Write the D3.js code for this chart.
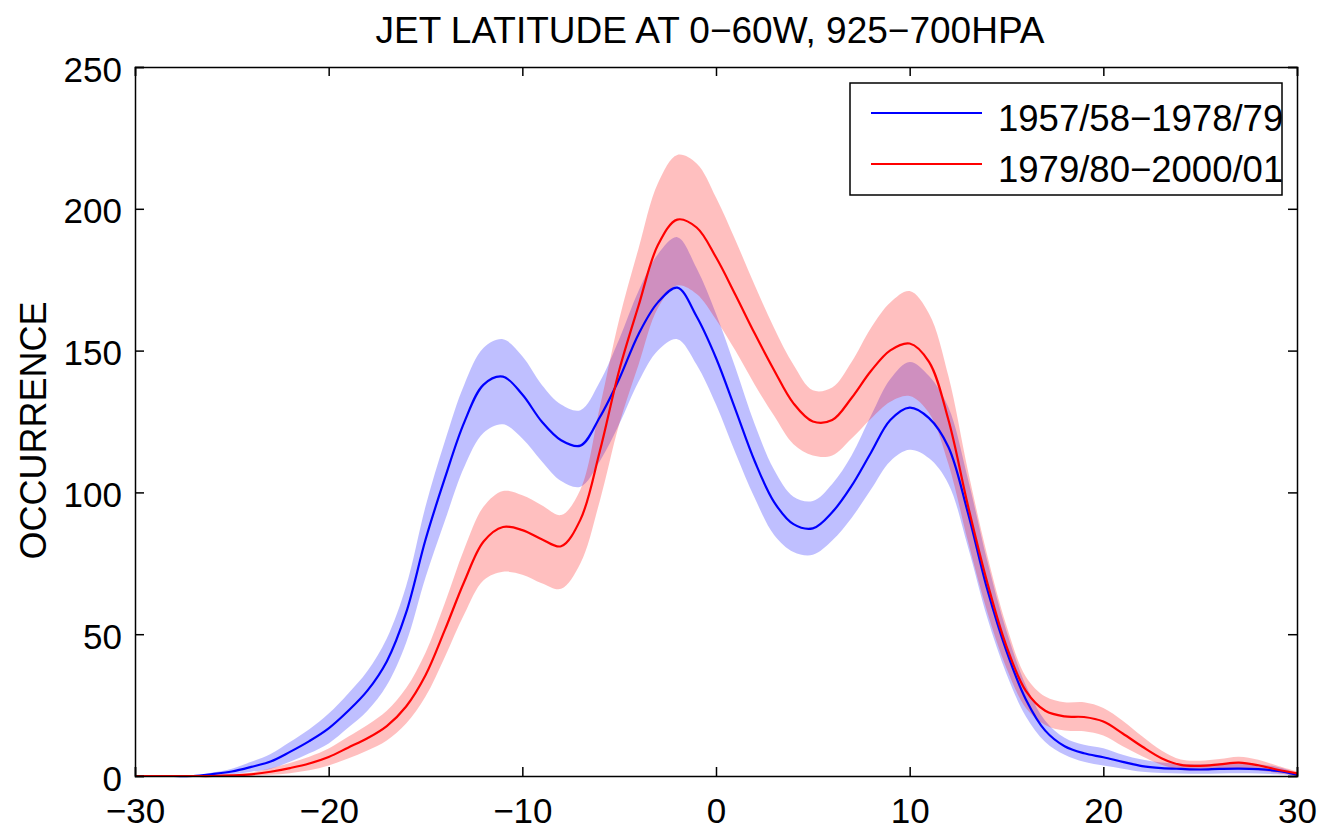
<!DOCTYPE html>
<html>
<head>
<meta charset="utf-8">
<script src="https://cdn.jsdelivr.net/npm/d3@7"></script>
<style>
  body { margin: 0; background: #fff; }
  text { font-family: "Liberation Sans", Arial, Helvetica, sans-serif; fill: #000; }
</style>
</head>
<body>
<div id="chart"></div>
<script>
// latitude grid (degrees relative to climatological jet)
const lats = d3.range(-30, 31);

// 1957/58-1978/79: mean, lower and upper band
const blueMean = [0, 0, 0, 0, 0.7, 1.6, 3.2, 5.1, 8.5, 12.3, 16.8, 22.9, 30.1, 40.4, 57.6, 83.3, 105, 124.7, 138, 140.8,
  134.5, 125, 118.4, 116.5, 126.5, 140, 155.8, 167, 172.2, 162, 147.4, 129.3, 111, 96.6, 88.8, 87.3, 93, 102.3, 114, 125.5,
  129.9, 126.2, 116, 93, 66, 44, 27, 16, 10.5, 8, 6.6, 5, 3.5, 2.8, 2.5, 2.3, 2.5, 2.6, 2.4, 1.8, 0.5];
const blueLo = [0, 0, 0, 0, 0.2, 0.6, 1.5, 2.6, 5, 8, 11.5, 17, 23, 32, 47, 70, 90, 109, 121, 124,
  119, 111, 104, 102, 111, 124, 139, 150, 154, 145, 131, 114, 98, 85, 79, 78, 83, 91, 101, 111,
  115, 112, 103, 81, 56, 36, 21, 12, 7.5, 5, 3.7, 2.6, 1.5, 1.1, 0.9, 0.8, 0.9, 1, 0.9, 0.6, 0.1];
const blueHi = [0, 0, 0, 0, 1.2, 2.6, 5, 7.8, 12, 16.5, 22, 29, 37, 48.5, 67, 95, 118, 138, 151, 154,
  148, 138, 131, 129, 139, 154, 171, 184, 190, 179, 163, 144, 124, 108, 98.5, 97, 103, 113, 127, 140,
  146, 141, 130, 105, 76, 51, 32, 19.5, 13.5, 11, 9.8, 7.5, 5.8, 4.8, 4.3, 4.1, 4.3, 4.4, 4.1, 3.2, 1.1];

// 1979/80-2000/01: mean, lower and upper band
const redMean = [0, 0, 0, 0, 0, 0.2, 0.6, 1.5, 2.8, 4.4, 6.7, 10, 13.3, 17.6, 24.5, 35.5, 51.5, 68.5, 82.7, 87.8,
  86.7, 83.5, 81, 90.4, 114.5, 143, 165.8, 187.2, 196.2, 193.4, 182.9, 169.7, 156, 143.1, 131.4, 125, 125.5, 133.3, 142.8, 150.1,
  152.5, 146, 125.6, 95.6, 68.4, 45.7, 30, 23, 21, 20.8, 19.2, 15, 10.4, 6.3, 3.9, 3.6, 4.1, 4.7, 3.8, 2.2, 0.9];
const redLo = [0, 0, 0, 0, 0, 0, 0.1, 0.4, 1, 2, 3.7, 6.2, 9, 12.5, 18.5, 28, 42, 57, 69, 72,
  71, 68, 66, 75, 97, 124, 145, 165, 173, 170, 161, 150, 138, 127, 117, 113, 113, 119, 126, 132,
  134, 128, 110, 83, 58, 38, 24, 18, 16, 15.8, 14.3, 10.5, 7, 4, 2.2, 1.9, 2.2, 2.6, 2, 1, 0.2];
const redHi = [0, 0, 0, 0, 0, 0.5, 1.2, 2.7, 4.6, 6.8, 9.7, 13.8, 18, 23, 31, 43.5, 61, 80, 95, 100.5,
  99, 95.5, 92, 101, 130, 161, 186, 209, 219, 216, 204, 189, 173, 158, 145, 136, 137, 146, 158, 167,
  171, 163, 141, 108, 78, 53, 35, 28, 26, 26, 24, 19.5, 14, 9, 5.8, 5.4, 6, 6.8, 5.7, 3.6, 1.6];

const seriesNames = ["1957/58\u22121978/79", "1979/80\u22122000/01"];
const seriesColors = ["#0000ff", "#ff0000"];
const bandColors = ["#0000ff", "#ff0000"];
const xTicks = [-30, -20, -10, 0, 10, 20, 30];
const yTicks = [0, 50, 100, 150, 200, 250];

const width = 1319, height = 830;
const margin = { top: 67, right: 22, bottom: 54, left: 135 };

const svg = d3.select("#chart").append("svg")
  .attr("width", width)
  .attr("height", height);

const x = d3.scaleLinear().domain([-30, 30]).range([margin.left, width - margin.right]);
const y = d3.scaleLinear().domain([0, 250]).range([height - margin.bottom, margin.top]);

const series = [
  { mean: blueMean, lo: blueLo, hi: blueHi },
  { mean: redMean, lo: redLo, hi: redHi }
];

const curve = d3.curveCatmullRom.alpha(0.5);

const area = d3.area()
  .x(d => x(d.lat))
  .y0(d => y(d.lo))
  .y1(d => y(d.hi))
  .curve(curve);

const line = d3.line()
  .x(d => x(d.lat))
  .y(d => y(d.v))
  .curve(curve);

// shaded bands first
series.forEach((s, i) => {
  const pts = lats.map((lat, j) => ({ lat, lo: s.lo[j], hi: s.hi[j] }));
  svg.append("path")
    .attr("d", area(pts))
    .attr("fill", bandColors[i])
    .attr("fill-opacity", 0.25);
});

// mean lines on top
series.forEach((s, i) => {
  const pts = lats.map((lat, j) => ({ lat, v: Math.max(0, s.mean[j]) }));
  svg.append("path")
    .attr("d", line(pts))
    .attr("fill", "none")
    .attr("stroke", seriesColors[i])
    .attr("stroke-width", 2.2);
});

// axes with inward ticks on all four sides
const tickLen = 9;
const axBottom = svg.append("g")
  .attr("transform", `translate(0,${y(0)})`)
  .call(d3.axisBottom(x).tickValues(xTicks).tickSize(-tickLen).tickPadding(0).tickFormat(d => d < 0 ? "\u2212" + Math.abs(d) : d));
axBottom.selectAll("text").attr("font-size", 35).attr("y", 47).attr("dy", 0);

const axTop = svg.append("g")
  .attr("transform", `translate(0,${y(250)})`)
  .call(d3.axisTop(x).tickValues(xTicks).tickSize(-tickLen).tickFormat(""));

const axLeft = svg.append("g")
  .attr("transform", `translate(${x(-30)},0)`)
  .call(d3.axisLeft(y).tickValues(yTicks).tickSize(-tickLen).tickPadding(0));
axLeft.selectAll("text").attr("font-size", 35).attr("x", -13).attr("dy", 14);

const axRight = svg.append("g")
  .attr("transform", `translate(${x(30)},0)`)
  .call(d3.axisRight(y).tickValues(yTicks).tickSize(-tickLen).tickFormat(""));

[axBottom, axTop, axLeft, axRight].forEach(g => {
  g.select(".domain").attr("stroke", "#000").attr("stroke-width", 1.5);
  g.selectAll(".tick line").attr("stroke", "#000").attr("stroke-width", 1.5);
  g.selectAll("text").attr("font-family", "Liberation Sans, Arial, sans-serif").attr("fill", "#000");
});

// title and y label
svg.append("text")
  .attr("x", 710)
  .attr("y", 43)
  .attr("text-anchor", "middle")
  .attr("font-size", 37)
  .text("JET LATITUDE AT 0\u221260W, 925\u2212700HPA");

svg.append("text")
  .attr("transform", `translate(46,${(y(0) + y(250)) / 2 + 9}) rotate(-90)`)
  .attr("text-anchor", "middle")
  .attr("font-size", 36)
  .text("OCCURRENCE");

// legend
const legend = svg.append("g");
legend.append("rect")
  .attr("x", 850).attr("y", 83)
  .attr("width", 432).attr("height", 112)
  .attr("fill", "#fff")
  .attr("stroke", "#000")
  .attr("stroke-width", 1.5);

seriesNames.forEach((name, i) => {
  const ly = 113 + i * 51;
  legend.append("line")
    .attr("x1", 871).attr("x2", 982)
    .attr("y1", ly).attr("y2", ly)
    .attr("stroke", seriesColors[i])
    .attr("stroke-width", 2.2);
  legend.append("text")
    .attr("x", 998)
    .attr("y", ly + 18)
    .attr("font-size", 36.5)
    .text(name);
});
</script>
</body>
</html>
